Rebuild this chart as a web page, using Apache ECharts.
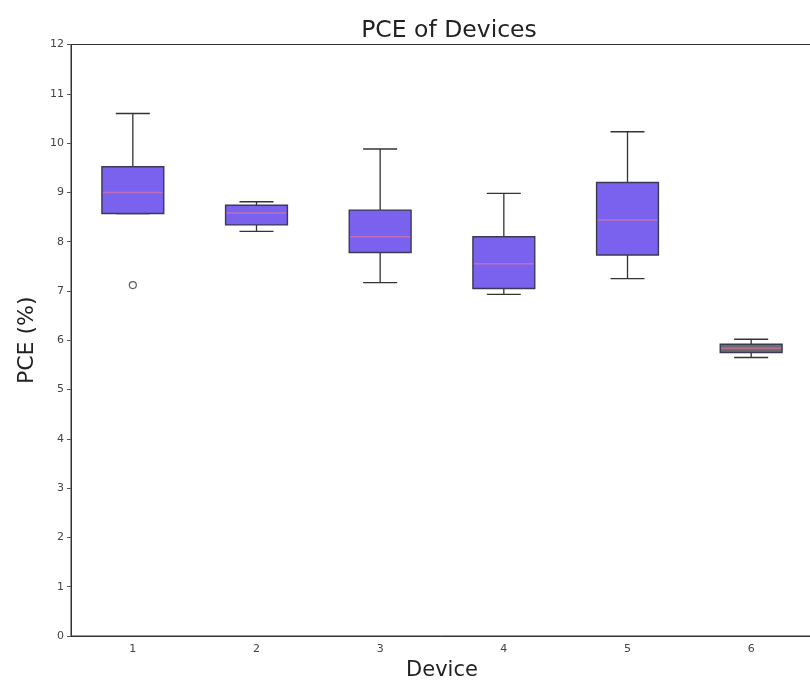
<!DOCTYPE html>
<html>
<head>
<meta charset="utf-8">
<script src="https://cdn.jsdelivr.net/npm/echarts@6/dist/echarts.min.js"></script>
<style>html,body{margin:0;padding:0;background:#fff;}#c{width:810px;height:683px;}</style>
</head>
<body>
<div id="c"></div>
<script>
const categories = ['1', '2', '3', '4', '5', '6'];
const mins    = [8.57, 8.21, 7.17, 6.93, 7.25, 5.65];
const q1s     = [8.57, 8.34, 7.78, 7.05, 7.73, 5.75];
const medians = [9.00, 8.58, 8.10, 7.55, 8.44, 5.84];
const q3s     = [9.52, 8.74, 8.64, 8.10, 9.20, 5.92];
const maxs    = [10.60, 8.81, 9.88, 8.98, 10.23, 6.02];
const outlierCats = ['1'];
const outlierVals = [7.12];
const yTicks = [0,1,2,3,4,5,6,7,8,9,10,11,12];

const fills = ['#7b62ee','#7b62ee','#7b62ee','#7b62ee','#7b62ee','#6c6c72'];

const boxData = categories.map((c, i) => [i, mins[i], q1s[i], medians[i], q3s[i], maxs[i]]);
const outData = outlierCats.map((c, i) => [categories.indexOf(c), outlierVals[i]]);

const chart = echarts.init(document.getElementById('c'), null, {renderer: 'canvas'});
const font = 'DejaVu Sans';
chart.setOption({
  animation: false,
  backgroundColor: '#ffffff',
  title: {
    text: 'PCE of Devices', left: 444, top: 14, textAlign: 'center',
    textStyle: {fontFamily: font, fontSize: 23.5, fontWeight: 'normal', color: '#222'}
  },
  grid: {left: 71, right: -3, top: 44.5, bottom: 47, show: true, borderColor: '#333', borderWidth: 1,
    containLabel: false, outerBoundsMode: 'none'},
  xAxis: {
    type: 'category', data: categories,
    name: 'Device', nameLocation: 'middle', nameGap: 24,
    nameTextStyle: {fontFamily: font, fontSize: 21, color: '#222'},
    axisLine: {lineStyle: {color: '#333'}},
    axisTick: {alignWithLabel: true, length: 4, lineStyle: {color: '#555'}},
    axisLabel: {fontFamily: font, fontSize: 11, color: '#444', margin: 8},
    splitLine: {show: false}
  },
  yAxis: {
    type: 'value', min: 0, max: 12, interval: 1,
    name: 'PCE (%)', nameLocation: 'middle', nameGap: 33,
    nameTextStyle: {fontFamily: font, fontSize: 22, color: '#222'},
    axisLine: {show: true, lineStyle: {color: '#333'}},
    axisTick: {show: true, length: 4, lineStyle: {color: '#555'}},
    axisLabel: {fontFamily: font, fontSize: 11, color: '#444', margin: 7,
      formatter: v => yTicks.includes(v) ? String(v) : ''},
    splitLine: {show: false}
  },
  series: [
    {
      type: 'custom',
      data: boxData,
      encode: {x: 0, y: [1, 2, 3, 4, 5]},
      renderItem: function (params, api) {
        const x = api.value(0);
        const idx = params.dataIndex;
        const band = api.size([1, 0])[0];
        const bw = band * 0.5;
        const cw = bw * 0.55;
        const pMin = api.coord([x, api.value(1)]);
        const pQ1 = api.coord([x, api.value(2)]);
        const pMed = api.coord([x, api.value(3)]);
        const pQ3 = api.coord([x, api.value(4)]);
        const pMax = api.coord([x, api.value(5)]);
        const cx = pMed[0];
        const ls = {stroke: '#333', lineWidth: 1.3};
        return {
          type: 'group',
          children: [
            {type: 'line', shape: {x1: cx, y1: pQ3[1], x2: cx, y2: pMax[1]}, style: ls},
            {type: 'line', shape: {x1: cx, y1: pQ1[1], x2: cx, y2: pMin[1]}, style: ls},
            {type: 'line', shape: {x1: cx - cw / 2, y1: pMax[1], x2: cx + cw / 2, y2: pMax[1]}, style: ls},
            {type: 'line', shape: {x1: cx - cw / 2, y1: pMin[1], x2: cx + cw / 2, y2: pMin[1]}, style: ls},
            {type: 'rect', shape: {x: cx - bw / 2, y: pQ3[1], width: bw, height: pQ1[1] - pQ3[1]},
              style: {fill: fills[idx], stroke: '#3a3a55', lineWidth: 1.4}},
            {type: 'line', shape: {x1: cx - bw / 2 + 1, y1: pMed[1], x2: cx + bw / 2 - 1, y2: pMed[1]},
              style: {stroke: '#e8789a', lineWidth: 1.5, opacity: 0.6}}
          ]
        };
      },
      z: 2
    },
    {
      type: 'scatter',
      data: outData,
      symbol: 'circle', symbolSize: 7,
      itemStyle: {color: '#ffffff', borderColor: '#333', borderWidth: 1.2},
      z: 3
    }
  ]
});
</script>
</body>
</html>
